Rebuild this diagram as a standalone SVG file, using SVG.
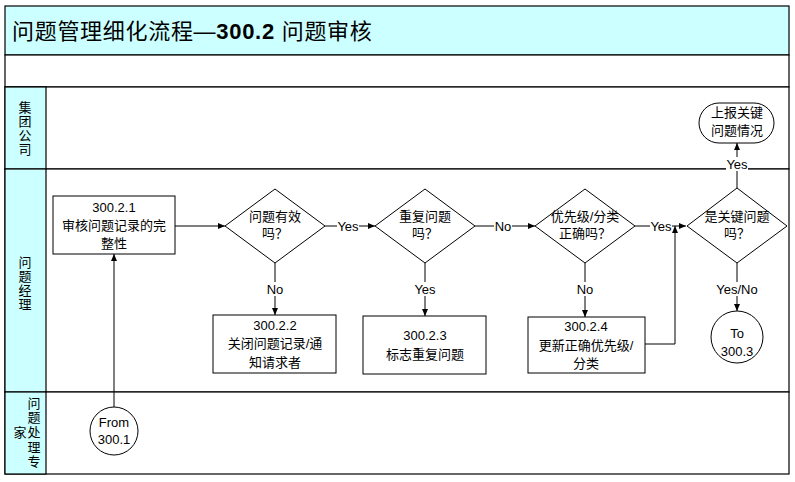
<svg xmlns="http://www.w3.org/2000/svg" width="795" height="482" viewBox="0 0 795 482">
<style>
text{font-family:"Liberation Sans","Noto Sans CJK SC",sans-serif;font-size:13px;fill:#000;text-anchor:middle;dominant-baseline:central}
.band{fill:#ccffff;stroke:#000;stroke-width:1.2}
.lane{fill:#fff;stroke:#000;stroke-width:1.2}
.node{fill:#fff;stroke:#000;stroke-width:1}
.ln{fill:none;stroke:#000;stroke-width:1}
.lbl{fill:#fff;stroke:none}
</style>
<defs>
<marker id="ah" markerWidth="8" markerHeight="8" refX="7" refY="4" orient="auto" markerUnits="userSpaceOnUse">
<path d="M0,1 L7,4 L0,7 Z" fill="#000"/>
</marker>
</defs>
<g id="frame">
<rect class="band" x="5" y="6" width="784" height="49"/>
<rect class="lane" x="5" y="55" width="784" height="32"/>
<rect class="lane" x="5" y="87" width="784" height="82"/>
<rect class="lane" x="5" y="169" width="784" height="223"/>
<rect class="lane" x="5" y="392" width="784" height="82"/>
<rect class="band" x="5" y="87" width="41" height="82"/>
<rect class="band" x="5" y="169" width="41" height="223"/>
<rect class="band" x="5" y="392" width="41" height="82"/>
<text x="12" y="31" style="font-size:22px;text-anchor:start;letter-spacing:0.7px">问题管理细化流程—<tspan font-weight="bold">300.2</tspan> 问题审核</text>
</g>
<g id="lane-labels">
<text x="25" y="107">集</text><text x="25" y="121">团</text><text x="25" y="135">公</text><text x="25" y="149">司</text>
<text x="25" y="262">问</text><text x="25" y="276">题</text><text x="25" y="290">经</text><text x="25" y="304">理</text>
<text x="34" y="403">问</text><text x="34" y="417">题</text><text x="34" y="432">处</text><text x="34" y="447">理</text><text x="34" y="461">专</text>
<text x="20" y="432">家</text>
</g>
<g id="connectors">
<path class="ln" d="M175,226 H225" marker-end="url(#ah)"/>
<path class="ln" d="M325,226 H375" marker-end="url(#ah)"/>
<path class="ln" d="M475,226 H535" marker-end="url(#ah)"/>
<path class="ln" d="M635,226 H686" marker-end="url(#ah)"/>
<path class="ln" d="M645,344 H675 V226" marker-end="url(#ah)"/>
<path class="ln" d="M275,263 V315" marker-end="url(#ah)"/>
<path class="ln" d="M425,263 V316" marker-end="url(#ah)"/>
<path class="ln" d="M585,263 V317" marker-end="url(#ah)"/>
<path class="ln" d="M737,263 V311" marker-end="url(#ah)"/>
<path class="ln" d="M737,188 V143" marker-end="url(#ah)"/>
<path class="ln" d="M114,407 V254" marker-end="url(#ah)"/>
<rect class="lbl" x="337" y="219" width="22" height="14"/><text x="348" y="226">Yes</text>
<rect class="lbl" x="494" y="219" width="18" height="14"/><text x="503" y="226">No</text>
<rect class="lbl" x="650" y="219" width="22" height="14"/><text x="661" y="226">Yes</text>
<rect class="lbl" x="266" y="282" width="18" height="14"/><text x="275" y="289">No</text>
<rect class="lbl" x="414" y="282" width="22" height="14"/><text x="425" y="289">Yes</text>
<rect class="lbl" x="576" y="282" width="18" height="14"/><text x="585" y="289">No</text>
<rect class="lbl" x="718" y="282" width="38" height="14"/><text x="737" y="289">Yes/No</text>
<rect class="lbl" x="726" y="157" width="22" height="14"/><text x="737" y="164">Yes</text>
</g>
<g id="n1">
<rect class="node" x="53" y="196" width="122" height="58"/>
<text x="114" y="207">300.2.1</text><text x="114" y="225">审核问题记录的完</text><text x="114" y="243">整性</text>
</g>
<g id="d1">
<polygon class="node" points="275,189 325,226 275,263 225,226"/>
<text x="275" y="216">问题有效</text><text x="275" y="233">吗？</text>
</g>
<g id="d2">
<polygon class="node" points="425,189 475,226 425,263 375,226"/>
<text x="425" y="216">重复问题</text><text x="425" y="233">吗？</text>
</g>
<g id="d3">
<polygon class="node" points="585,189 635,226 585,263 535,226"/>
<text x="585" y="216">优先级/分类</text><text x="585" y="233">正确吗？</text>
</g>
<g id="d4">
<polygon class="node" points="737,188 787,226 737,263 687,226"/>
<text x="737" y="216">是关键问题</text><text x="737" y="233">吗？</text>
</g>
<g id="n2">
<rect class="node" x="213" y="315" width="123" height="58"/>
<text x="275" y="325">300.2.2</text><text x="275" y="343">关闭问题记录/通</text><text x="275" y="362">知请求者</text>
</g>
<g id="n3">
<rect class="node" x="363" y="316" width="123" height="58"/>
<text x="425" y="335">300.2.3</text><text x="425" y="354">标志重复问题</text>
</g>
<g id="n4">
<rect class="node" x="528" y="317" width="117" height="56"/>
<text x="586" y="326">300.2.4</text><text x="586" y="345">更新正确优先级/</text><text x="586" y="363">分类</text>
</g>
<g id="to3003">
<circle class="node" cx="737" cy="337" r="26"/>
<text x="737" y="333">To</text><text x="737" y="351">300.3</text>
</g>
<g id="report">
<rect class="node" x="699" y="103" width="75" height="40" rx="20" ry="20"/>
<text x="737" y="112">上报关键</text><text x="737" y="130">问题情况</text>
</g>
<g id="from3001">
<circle class="node" cx="114" cy="431" r="24"/>
<text x="114" y="422">From</text><text x="114" y="439">300.1</text>
</g>
</svg>
